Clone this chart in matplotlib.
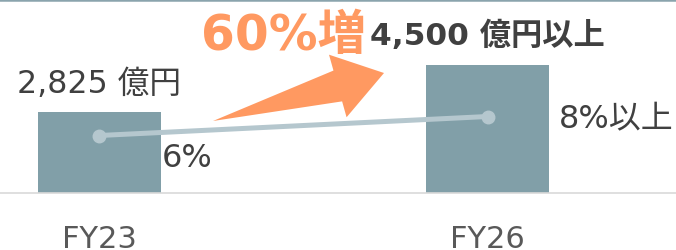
import numpy as np
import matplotlib
matplotlib.use('Agg')
import matplotlib.pyplot as plt
from matplotlib.patches import Polygon

plt.rcParams['font.family'] = ['DejaVu Sans', 'Noto Sans CJK JP']

# data
years = ['FY23', 'FY26']
sales = [2825, 4500]                  # 億円
sales_labels = ['2,825 億円', '4,500 億円以上']
margin = [6, 8]                        # %
margin_labels = ['6%', '8%以上']
growth_label = '60%増'

BAR_C = '#819fa8'
LINE_C = '#b5c7ce'
ORANGE = '#ff9961'
TEXT_C = '#404040'

W, H = 676, 251
fig = plt.figure(figsize=(W / 100, H / 100), dpi=100)
bottom_px, top_px = 57.5, 1.25
ax_h = H - bottom_px - top_px
ax = fig.add_axes([0, bottom_px / H, 1, ax_h / H])

x = np.arange(len(years))
ax.bar(x, sales, width=0.317, color=BAR_C, zorder=2)
ax.set_xlim(-0.2564, 1.4858)
ax.set_ylim(0, ax_h / 128 * 4500)

for s in ['left', 'right']:
    ax.spines[s].set_visible(False)
ax.spines['bottom'].set_color('#d9d9d9')
ax.spines['bottom'].set_linewidth(1.2)
ax.spines['top'].set_color('#8aa4ad')
ax.spines['top'].set_linewidth(1.8)
ax.set_yticks([])
ax.set_xticks(x, years)
ax.tick_params(axis='x', length=0, pad=22.5, labelsize=22, labelcolor='#595959')

ax2 = ax.twinx()
ax2.set_ylim(0, ax_h / 9.5)
ax2.set_axis_off()
ax2.plot(x, margin, color=LINE_C, lw=3.6, marker='o', ms=9, solid_capstyle='round', zorder=3)

# value labels above bars
bold = [False, True]
for xi, v, lab, b in zip(x, sales, sales_labels, bold):
    ax.annotate(lab, (xi, v), xytext=(0, 14.8), textcoords='offset points',
                ha='center', va='baseline', fontsize=22.5 if b else 22.8,
                fontweight='bold' if b else 'normal', color=TEXT_C, annotation_clip=False)

# margin labels
offsets = [(45, -22), (51.5, -7.5)]
for xi, v, lab, off in zip(x, margin, margin_labels, offsets):
    ax2.annotate(lab, (xi, v), xytext=off, textcoords='offset points',
                 ha='left', va='baseline', fontsize=23, color=TEXT_C,
                 annotation_clip=False)

# growth callout
ax.annotate(growth_label, (x[1], sales[1]), xytext=(-87.5, 11.2), textcoords='offset points',
            ha='right', va='baseline', fontsize=35, fontweight='bold', color=ORANGE,
            annotation_clip=False)


def block_arrow(p0, p1, shaft_w, head_w, head_len):
    p0, p1 = np.array(p0, float), np.array(p1, float)
    d = p1 - p0
    L = np.hypot(*d)
    u = d / L
    n = np.array([-u[1], u[0]])
    base = p0 + u * (L - head_len)
    pts = [p0, base + n * shaft_w / 2, base + n * head_w / 2, p1,
           base - n * head_w / 2, base - n * shaft_w / 2]
    return np.array([(px / W, 1 - py / H) for px, py in pts])


arrow = Polygon(block_arrow((213, 122), (384, 74), 32, 65, 48), closed=True,
                facecolor=ORANGE, edgecolor='none', transform=fig.transFigure, zorder=1)
fig.patches.append(arrow)

fig.savefig('out.png', dpi=100)
